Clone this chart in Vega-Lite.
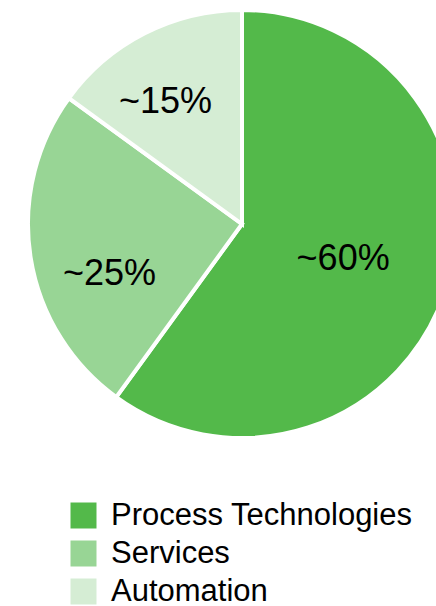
{
  "$schema": "https://vega.github.io/schema/vega-lite/v6.json",
  "width": 436,
  "height": 448,
  "autosize": {"type": "none"},
  "padding": {"left": 0, "top": 0, "right": 0, "bottom": 158},
  "background": "white",
  "view": {"stroke": null},
  "config": {
    "font": "Liberation Sans",
    "legend": {
      "symbolType": "square",
      "symbolSize": 676,
      "symbolStrokeWidth": 0,
      "symbolOpacity": 1,
      "labelFontSize": 31,
      "labelFont": "Liberation Sans",
      "labelColor": "black",
      "labelLimit": 400,
      "rowPadding": 6,
      "labelOffset": 12,
      "padding": 0
    }
  },
  "data": {
    "values": [
      {"segment": "Process Technologies", "share": 60, "label": "~60%", "order": 1},
      {"segment": "Services", "share": 25, "label": "~25%", "order": 2},
      {"segment": "Automation", "share": 15, "label": "~15%", "order": 3}
    ]
  },
  "encoding": {
    "theta": {"field": "share", "type": "quantitative", "stack": true},
    "order": {"field": "order", "type": "quantitative"}
  },
  "layer": [
    {
      "mark": {"type": "arc", "outerRadius": 214, "stroke": "white", "strokeWidth": 4, "x": 242, "y": 224},
      "encoding": {
        "color": {
          "field": "segment",
          "type": "nominal",
          "sort": ["Process Technologies", "Services", "Automation"],
          "scale": {
            "domain": ["Process Technologies", "Services", "Automation"],
            "range": ["#53B94A", "#98D595", "#D5EDD4"]
          },
          "legend": {"title": null, "orient": "none", "legendX": 68, "legendY": 500, "direction": "vertical"}
        }
      }
    },
    {
      "mark": {"type": "text", "radius": 120, "x": 242, "y": 224, "dx": -13, "dy": -2, "fontSize": 36, "color": "black"},
      "encoding": {
        "text": {"condition": {"test": "datum.segment === 'Process Technologies'", "field": "label"}, "value": ""}
      }
    },
    {
      "mark": {"type": "text", "radius": 120, "x": 242, "y": 224, "dx": -14, "dy": 31, "fontSize": 36, "color": "black"},
      "encoding": {
        "text": {"condition": {"test": "datum.segment === 'Services'", "field": "label"}, "value": ""}
      }
    },
    {
      "mark": {"type": "text", "radius": 120, "x": 242, "y": 224, "dx": -22, "dy": -15, "fontSize": 36, "color": "black"},
      "encoding": {
        "text": {"condition": {"test": "datum.segment === 'Automation'", "field": "label"}, "value": ""}
      }
    }
  ]
}
